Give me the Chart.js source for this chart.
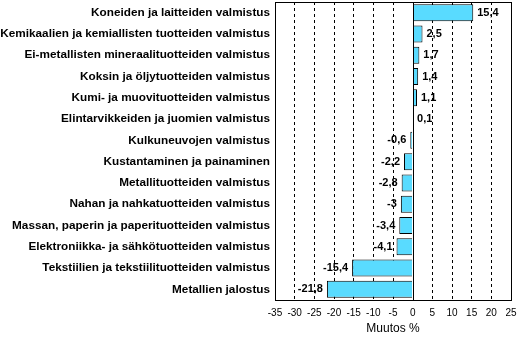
<!DOCTYPE html>
<html>
<head>
<meta charset="utf-8">
<title>Muutos %</title>
<style>
  body { margin: 0; background: #fff; }
</style>
</head>
<body>
<canvas id="myChart" width="517" height="337"></canvas>
<script src="https://cdn.jsdelivr.net/npm/chart.js"></script>
<script>
const labels = [
  'Koneiden ja laitteiden valmistus',
  'Kemikaalien ja kemiallisten tuotteiden valmistus',
  'Ei-metallisten mineraalituotteiden valmistus',
  'Koksin ja öljytuotteiden valmistus',
  'Kumi- ja muovituotteiden valmistus',
  'Elintarvikkeiden ja juomien valmistus',
  'Kulkuneuvojen valmistus',
  'Kustantaminen ja painaminen',
  'Metallituotteiden valmistus',
  'Nahan ja nahkatuotteiden valmistus',
  'Massan, paperin ja paperituotteiden valmistus',
  'Elektroniikka- ja sähkötuotteiden valmistus',
  'Tekstiilien ja tekstiilituotteiden valmistus',
  'Metallien jalostus'
]
const muutos = [15.4, 2.5, 1.7, 1.4, 1.1, 0.1, -0.6, -2.2, -2.8, -3, -3.4, -4.1, -15.4, -21.8]
const xMin = -35
const xMax = 25
const xStep = 5

const fmt = v => String(v).replace('.', ',')

// value labels next to bar ends + solid zero line + frame
const extras = {
  id: 'extras',
  afterDatasetsDraw(chart) {
    const c = chart.ctx
    const x = chart.scales.x
    const a = chart.chartArea
    c.save()
    c.strokeStyle = '#000'
    c.lineWidth = 1
    const x0 = Math.round(x.getPixelForValue(0)) + 0.5
    c.beginPath()
    c.moveTo(x0, a.top)
    c.lineTo(x0, a.bottom)
    c.stroke()
    c.strokeRect(Math.round(a.left) + 0.5, Math.round(a.top) + 0.5, Math.round(a.right - a.left), Math.round(a.bottom - a.top))

    c.font = 'bold 11px "Liberation Sans", Arial, sans-serif'
    c.fillStyle = '#000'
    c.textBaseline = 'middle'
    const meta = chart.getDatasetMeta(0)
    meta.data.forEach((bar, i) => {
      const v = muutos[i]
      if (v >= 0) {
        c.textAlign = 'left'
        c.fillText(fmt(v), bar.x + 4, bar.y)
      } else {
        c.textAlign = 'right'
        c.fillText(fmt(v), bar.x - 4, bar.y)
      }
    })
    c.restore()
  }
}

new Chart(document.getElementById('myChart'), {
  type: 'bar',
  data: {
    labels: labels,
    datasets: [{
      data: muutos,
      backgroundColor: '#59dbff',
      borderColor: '#000',
      borderWidth: 1,
      barPercentage: 0.8,
      categoryPercentage: 1
    }]
  },
  options: {
    indexAxis: 'y',
    responsive: false,
    animation: false,
    layout: { padding: { top: 2, right: 0, left: 0, bottom: 0 } },
    plugins: {
      legend: { display: false },
      tooltip: { enabled: false }
    },
    scales: {
      x: {
        min: xMin,
        max: xMax,
        ticks: {
          stepSize: xStep,
          color: '#000',
          font: { family: '"Liberation Sans", Arial, sans-serif', size: 10 },
          padding: 7,
          maxRotation: 0,
          minRotation: 0,
          autoSkip: false
        },
        grid: {
          color: ctx => ctx.tick && ctx.tick.value === 0 ? 'rgba(0,0,0,0)' : '#000',
          lineWidth: 1,
          drawTicks: false
        },
        border: { display: false, dash: [3, 3] },
        title: {
          display: true,
          text: 'Muutos %',
          color: '#000',
          font: { family: '"Liberation Sans", Arial, sans-serif', size: 12 },
          padding: { top: 3, bottom: 1 }
        },
        afterFit(scale) {
          scale.height = 37
          scale.paddingLeft = 0
          scale.paddingRight = 6
        }
      },
      y: {
        ticks: {
          color: '#000',
          font: { family: '"Liberation Sans", Arial, sans-serif', size: 11.75, weight: 'bold' },
          padding: 5
        },
        grid: { display: false, drawTicks: false },
        border: { display: false },
        afterFit(scale) {
          scale.width = 275
          scale.paddingTop = 0
          scale.paddingBottom = 0
        }
      }
    }
  },
  plugins: [extras]
})
</script>
</body>
</html>
